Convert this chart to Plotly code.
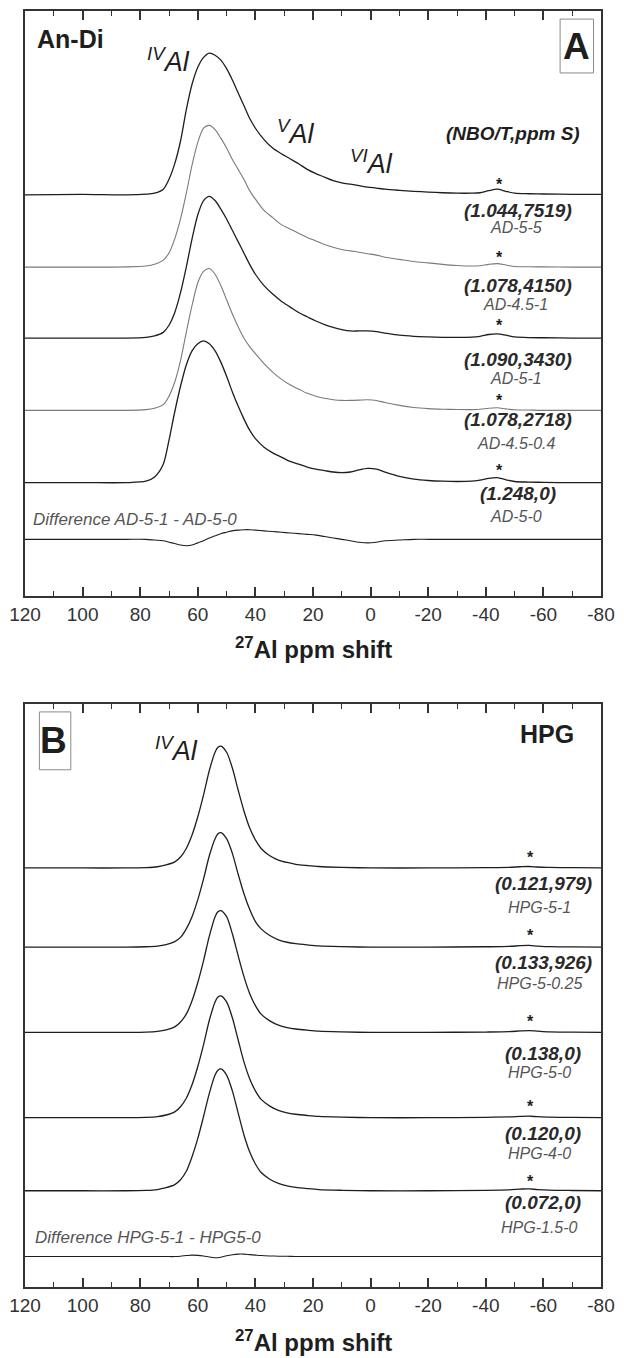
import plotly.graph_objects as go

# ---------------- panel A : An-Di glasses ----------------
ppm_a = [120, 100, 85, 78, 75, 72, 70, 68, 66, 64, 62, 60, 58, 56, 54, 52, 50, 48, 46, 44,
         42, 40, 37, 34, 31, 28, 25, 22, 19, 16, 13, 10, 7, 4, 1, -2, -5, -10, -15, -20,
         -25, -30, -35, -38, -41, -44, -47, -50, -55, -60, -70, -80]

ad_5_5 = [0, 0.003, 0, 0.005, 0.012, 0.04, 0.11, 0.22, 0.38, 0.60, 0.78, 0.90, 0.97, 1.0, 0.985, 0.95,
          0.89, 0.81, 0.72, 0.63, 0.54, 0.47, 0.39, 0.33, 0.29, 0.255, 0.22, 0.18, 0.15, 0.125,
          0.10, 0.085, 0.075, 0.065, 0.055, 0.048, 0.04, 0.032, 0.025, 0.02, 0.015, 0.012,
          0.012, 0.015, 0.03, 0.04, 0.025, 0.012, 0.008, 0.006, 0.004, 0.004]
ad_45_1 = [0, 0, 0.002, 0.008, 0.02, 0.05, 0.10, 0.20, 0.34, 0.52, 0.72, 0.88, 0.98, 1.0, 0.97, 0.91,
           0.84, 0.76, 0.69, 0.62, 0.54, 0.48, 0.40, 0.35, 0.30, 0.27, 0.24, 0.21, 0.185, 0.16,
           0.14, 0.125, 0.115, 0.105, 0.095, 0.085, 0.07, 0.055, 0.04, 0.03, 0.02, 0.012,
           0.008, 0.01, 0.02, 0.025, 0.015, 0.005, 0.003, 0.002, 0, 0]
ad_5_1 = [0, 0, 0, 0.005, 0.015, 0.04, 0.09, 0.18, 0.32, 0.50, 0.70, 0.87, 0.97, 1.0, 0.97, 0.91,
          0.84, 0.76, 0.68, 0.60, 0.52, 0.45, 0.37, 0.31, 0.26, 0.22, 0.18, 0.15, 0.12, 0.095,
          0.075, 0.06, 0.05, 0.05, 0.05, 0.045, 0.035, 0.02, 0.012, 0.008, 0.005, 0.004,
          0.006, 0.012, 0.025, 0.03, 0.02, 0.008, 0.003, 0.002, 0, 0]
ad_45_04 = [0, 0, 0, 0.005, 0.015, 0.04, 0.10, 0.20, 0.35, 0.55, 0.74, 0.90, 0.98, 1.0, 0.96, 0.88,
            0.78, 0.68, 0.59, 0.51, 0.45, 0.40, 0.33, 0.27, 0.22, 0.18, 0.15, 0.12, 0.10, 0.085,
            0.075, 0.07, 0.07, 0.072, 0.075, 0.07, 0.055, 0.035, 0.02, 0.012, 0.008, 0.006,
            0.005, 0.008, 0.015, 0.018, 0.01, 0.004, 0.002, 0, 0, 0]
ad_5_0 = [0, 0, 0, 0.01, 0.04, 0.13, 0.30, 0.50, 0.68, 0.83, 0.93, 0.98, 1.0, 0.98, 0.93, 0.85,
          0.75, 0.64, 0.54, 0.45, 0.37, 0.31, 0.25, 0.21, 0.18, 0.15, 0.13, 0.11, 0.095, 0.085,
          0.075, 0.07, 0.075, 0.09, 0.10, 0.095, 0.075, 0.045, 0.025, 0.015, 0.01, 0.008,
          0.01, 0.018, 0.03, 0.035, 0.02, 0.008, 0.004, 0.002, 0, 0]
diff_a = [0, 0, 0, 0, -0.005, -0.01, -0.02, -0.03, -0.04, -0.045, -0.04, -0.025, -0.01, 0.01,
          0.025, 0.04, 0.05, 0.06, 0.065, 0.068, 0.068, 0.065, 0.06, 0.055, 0.05, 0.045, 0.04,
          0.035, 0.03, 0.02, 0.01, 0, -0.01, -0.02, -0.025, -0.02, -0.01, -0.005, 0, 0, 0, 0,
          0, 0, 0, 0, 0, 0, 0, 0, 0, 0]

names_a = ["AD-5-5", "AD-4.5-1", "AD-5-1", "AD-4.5-0.4", "AD-5-0"]
nbo_a = ["(1.044,7519)", "(1.078,4150)", "(1.090,3430)", "(1.078,2718)", "(1.248,0)"]
series_a = [ad_5_5, ad_45_1, ad_5_1, ad_45_04, ad_5_0]
offsets_a = [2.83, 2.32, 1.82, 1.31, 0.80]
diff_offset_a = 0.40

# ---------------- panel B : HPG glasses ----------------
ppm_b = [120, 100, 85, 78, 74, 71, 68, 66, 64, 62, 60, 58, 56, 54, 53, 52, 50, 48, 46, 44, 42,
         40, 38, 35, 32, 29, 26, 22, 18, 10, 0, -20, -40, -48, -52, -55, -58, -62, -70, -80]

hpg_5_1 = [0, 0, 0, 0.003, 0.01, 0.025, 0.05, 0.09, 0.16, 0.27, 0.42, 0.60, 0.80, 0.95, 0.99, 1.0,
           0.95, 0.82, 0.64, 0.47, 0.33, 0.23, 0.16, 0.10, 0.065, 0.045, 0.03, 0.02, 0.012,
           0.005, 0, 0, 0.003, 0.005, 0.01, 0.012, 0.008, 0.004, 0.002, 0]
hpg_5_025 = [0, 0, 0, 0.003, 0.008, 0.02, 0.045, 0.08, 0.15, 0.25, 0.39, 0.56, 0.75, 0.89, 0.93,
             0.94, 0.89, 0.77, 0.60, 0.44, 0.31, 0.21, 0.15, 0.095, 0.06, 0.04, 0.028, 0.018,
             0.01, 0.004, 0, 0, 0.003, 0.006, 0.012, 0.014, 0.009, 0.004, 0.002, 0]
hpg_5_0 = [0, 0, 0, 0.002, 0.008, 0.02, 0.045, 0.085, 0.15, 0.26, 0.41, 0.59, 0.79, 0.95, 0.99, 1.0,
           0.95, 0.81, 0.63, 0.46, 0.32, 0.22, 0.15, 0.095, 0.06, 0.04, 0.028, 0.018, 0.01,
           0.004, 0, 0, 0.003, 0.006, 0.012, 0.015, 0.01, 0.004, 0.002, 0]
hpg_4_0 = [0, 0, 0, 0.003, 0.009, 0.022, 0.048, 0.09, 0.16, 0.27, 0.42, 0.60, 0.80, 0.95, 0.99, 1.0,
           0.95, 0.82, 0.64, 0.46, 0.32, 0.22, 0.15, 0.095, 0.06, 0.04, 0.028, 0.018, 0.01,
           0.004, 0, 0, 0.003, 0.006, 0.01, 0.012, 0.008, 0.004, 0.002, 0]
hpg_15_0 = [0, 0, 0, 0.003, 0.01, 0.025, 0.05, 0.09, 0.16, 0.28, 0.43, 0.61, 0.80, 0.95, 0.99, 1.0,
            0.95, 0.82, 0.64, 0.46, 0.32, 0.22, 0.15, 0.095, 0.06, 0.04, 0.028, 0.018, 0.01,
            0.004, 0, 0, 0.004, 0.008, 0.014, 0.016, 0.01, 0.005, 0.002, 0]
diff_b = [0, 0, 0, 0, 0, 0, 0, 0.003, 0.008, 0.012, 0.01, 0.004, -0.004, -0.01, -0.01, -0.006,
          0.006, 0.015, 0.02, 0.02, 0.016, 0.012, 0.008, 0.005, 0.003, 0.002, 0, 0, 0, 0, 0, 0,
          0, 0, 0, 0, 0, 0, 0, 0]

names_b = ["HPG-5-1", "HPG-5-0.25", "HPG-5-0", "HPG-4-0", "HPG-1.5-0"]
nbo_b = ["(0.121,979)", "(0.133,926)", "(0.138,0)", "(0.120,0)", "(0.072,0)"]
series_b = [hpg_5_1, hpg_5_025, hpg_5_0, hpg_4_0, hpg_15_0]
offsets_b = [3.44, 2.79, 2.09, 1.39, 0.79]
diff_offset_b = 0.25

major_ticks = [120, 100, 80, 60, 40, 20, 0, -20, -40, -60, -80]
minor_ticks = [110, 90, 70, 50, 30, 10, -10, -30, -50, -70]
tick_text = [str(t) for t in major_ticks]  # plain hyphen minus, as in the figure

FONT = "Liberation Sans, Arial, sans-serif"
DARK = "#1e1e1e"
GRAY = "#7a7a7a"

fig = go.Figure()

colors_a = [DARK, GRAY, DARK, GRAY, DARK]
widths_a = [1.3, 1.1, 1.3, 1.1, 1.3]
for vals, off, col, w in zip(series_a, offsets_a, colors_a, widths_a):
    fig.add_trace(go.Scatter(
        x=ppm_a, y=[v + off for v in vals], mode="lines",
        line=dict(color=col, width=w, shape="spline", smoothing=0.8),
        xaxis="x", yaxis="y", showlegend=False,
    ))
fig.add_trace(go.Scatter(
    x=ppm_a, y=[v + diff_offset_a for v in diff_a], mode="lines",
    line=dict(color=DARK, width=1.1, shape="spline", smoothing=0.8),
    xaxis="x", yaxis="y", showlegend=False,
))

for vals, off in zip(series_b, offsets_b):
    fig.add_trace(go.Scatter(
        x=ppm_b, y=[v + off for v in vals], mode="lines",
        line=dict(color=DARK, width=1.3, shape="spline", smoothing=0.8),
        xaxis="x2", yaxis="y2", showlegend=False,
    ))
fig.add_trace(go.Scatter(
    x=ppm_b, y=[v + diff_offset_b for v in diff_b], mode="lines",
    line=dict(color=DARK, width=1.1, shape="spline", smoothing=0.8),
    xaxis="x2", yaxis="y2", showlegend=False,
))

anns = []


def label(x, y, text, size, ax="x", ay="y", bold=False, italic=False, color=DARK,
          xanchor="center"):
    anns.append(dict(x=x, y=y, xref=ax, yref=ay, text=text, showarrow=False,
                     xanchor=xanchor, yanchor="middle",
                     font=dict(family=FONT, size=size, color=color,
                               weight="bold" if bold else "normal",
                               style="italic" if italic else "normal")))


# panel A text
label(104.1, 3.93, "An-Di", 25, bold=True)
label(70.2, 3.78, "<sup>IV</sup>Al", 27, italic=True)
label(26.0, 3.27, "<sup>V</sup>Al", 27, italic=True)
label(-0.4, 3.06, "<sup>VI</sup>Al", 27, italic=True)
label(-49.4, 3.26, "(NBO/T,ppm S)", 19, bold=True, italic=True)
label(-71.6, 3.88, "A", 37, bold=True)
star_y_a = [2.90, 2.39, 1.91, 1.38, 0.887]
nbo_y_a = [2.72, 2.19, 1.67, 1.246, 0.725]
name_y_a = [2.60, 2.06, 1.535, 1.077, 0.563]
for sy, ny, my, nb, nm in zip(star_y_a, nbo_y_a, name_y_a, nbo_a, names_a):
    label(-44.9, sy, "*", 16, bold=True)
    label(-51.1, ny, nb, 19, bold=True, italic=True, color="#2a2a2a")
    label(-50.4, my, nm, 16, italic=True, color="#555555")
label(117.8, 0.542, "Difference AD-5-1 - AD-5-0", 17, italic=True, color="#555555",
      xanchor="left")

# panel B text
label(-61.4, 4.54, "HPG", 25, ax="x2", ay="y2", bold=True)
label(67.4, 4.418, "<sup>IV</sup>Al", 27, ax="x2", ay="y2", italic=True)
label(110.1, 4.484, "B", 37, ax="x2", ay="y2", bold=True)
star_y_b = [3.525, 2.885, 2.18, 1.484, 0.869]
nbo_y_b = [3.31, 2.664, 1.918, 1.262, 0.697]
name_y_b = [3.115, 2.49, 1.762, 1.098, 0.492]
for sy, ny, my, nb, nm in zip(star_y_b, nbo_y_b, name_y_b, nbo_b, names_b):
    label(-55.5, sy, "*", 16, ax="x2", ay="y2", bold=True)
    label(-60.0, ny, nb, 19, ax="x2", ay="y2", bold=True, italic=True, color="#2a2a2a")
    label(-58.6, my, nm, 16, ax="x2", ay="y2", italic=True, color="#555555")
label(117.1, 0.41, "Difference HPG-5-1 - HPG5-0", 17, ax="x2", ay="y2", italic=True,
      color="#555555", xanchor="left")

# axis titles
for ty in [0.5008, -0.0425]:
    anns.append(dict(x=0.5, y=ty, xref="paper", yref="paper", showarrow=False,
                     xanchor="center", yanchor="middle",
                     text="<sup>27</sup>Al ppm shift",
                     font=dict(family=FONT, size=24, color=DARK, weight="bold")))

# thin frames round the panel letters
shapes = [
    dict(type="rect", xref="x", yref="y", x0=-65.8, x1=-77.4, y0=3.69, y1=4.07,
         line=dict(color="#8a8a8a", width=1)),
    dict(type="rect", xref="x2", yref="y2", x0=115.0, x1=104.1, y0=4.246, y1=4.721,
         line=dict(color="#8a8a8a", width=1)),
]

xaxis_style = dict(
    range=[120, -80], tickmode="array", tickvals=major_ticks, ticktext=tick_text,
    ticks="inside", ticklen=9, tickwidth=1.5, tickcolor="#333",
    minor=dict(tickmode="array", tickvals=minor_ticks, ticks="inside", ticklen=5,
               tickwidth=1.2, tickcolor="#333"),
    showline=True, linecolor="#333", linewidth=1.6, mirror="ticks",
    showgrid=False, zeroline=False,
    tickfont=dict(family=FONT, size=19, color="#333"),
)
yaxis_style = dict(
    showticklabels=False, ticks="", showline=True, linecolor="#333", linewidth=1.6,
    mirror=True, showgrid=False, zeroline=False,
)

fig.update_layout(
    width=624, height=1358,
    margin=dict(l=23, r=16, t=9, b=71),
    paper_bgcolor="white", plot_bgcolor="white",
    xaxis=dict(domain=[0, 1], anchor="y", **xaxis_style),
    yaxis=dict(domain=[0.5415, 1.0], anchor="x", range=[0, 4.127], **yaxis_style),
    xaxis2=dict(domain=[0, 1], anchor="y2", **xaxis_style),
    yaxis2=dict(domain=[0, 0.457], anchor="x2", range=[0, 4.787], **yaxis_style),
    annotations=anns,
    shapes=shapes,
    showlegend=False,
)

# the page's default 8px body margin would push the figure off the window
fig.write_html("out.html", config={"displayModeBar": False},
               post_script="document.body.style.margin='0';")
